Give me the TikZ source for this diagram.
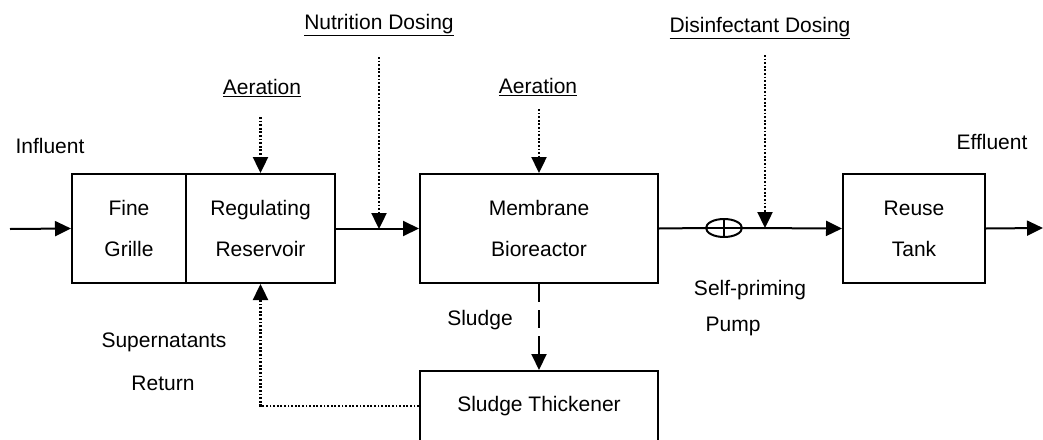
\documentclass[tikz,border=0pt]{standalone}
\usepackage{fontspec}
\setmainfont{Liberation Sans}
\usetikzlibrary{arrows.meta,shapes.geometric}
\begin{document}
\begin{tikzpicture}[x=1pt,y=-1pt,
  font=\fontsize{21}{41}\selectfont,
  unit/.style={draw,line width=2pt,rectangle,inner sep=0pt,align=center},
  txt/.style={inner sep=0pt,align=center},
  flow/.style={line width=2pt,-{Triangle[length=16pt,width=15pt]}},
  dose/.style={line width=2.4pt,dash pattern=on 1.8pt off 1.8pt,-{Triangle[length=16pt,width=15pt]}},
  sludgeline/.style={line width=2pt,dash pattern=on 18pt off 8pt,-{Triangle[length=16pt,width=15pt]}}
]
\useasboundingbox (0,0) rectangle (1043,439);
\clip (0,0) rectangle (1043,439);

% process units
\node[unit,minimum width=114pt,minimum height=109pt] (fine) at (129,228.5) {Fine\\Grille};
\node[unit,minimum width=149pt,minimum height=109pt] (res) at (260.5,228.5) {Regulating\\Reservoir};
\node[unit,minimum width=238pt,minimum height=109pt] (mbr) at (539,228.5) {Membrane\\Bioreactor};
\node[unit,minimum width=142pt,minimum height=109pt] (reuse) at (914,228.5) {Reuse\\Tank};
\node[unit,minimum width=238pt,minimum height=70pt] (thick) at (539,406) {\raisebox{4pt}{Sludge Thickener}};

% self-priming pump
\node[draw,ellipse,line width=2pt,minimum width=36pt,minimum height=18pt,inner sep=0pt] (pump) at (724,228) {};
\draw[line width=2pt] (pump.north) -- (pump.south);

% labels
\node[txt] (influent) at (50,146) {Influent};
\node[txt] (effluent) at (992,142) {Effluent};
\node[txt] (nutr) at (379,25) {\underline{Nutrition Dosing}};
\node[txt] (aer1) at (262,88) {\underline{Aeration}};
\node[txt] (aer2) at (538,87) {\underline{Aeration}};
\node[txt] (disinf) at (760,28) {\underline{Disinfectant Dosing}};
\node[txt] (selfp) at (750,290) {Self-priming};
\node[txt] (pumplbl) at (733,326) {Pump};
\node[txt] (sludge) at (480,320) {Sludge};
\node[txt] (super) at (164,342) {Supernatants};
\node[txt] (ret) at (163,383) {Return};

% free ends and junctions
\coordinate (inlet) at (10,229);
\coordinate (outlet) at (1043,228);
\coordinate (nutrtop) at (379,57);
\coordinate (nutrjoin) at (379,229);
\coordinate (aer1top) at (260.5,117);
\coordinate (aer2top) at (539,109);
\coordinate (distop) at (765,55);
\coordinate (disjoin) at (765,228);
\coordinate (retcorner) at (260.5,406);

% main flow
\draw[flow] (inlet) -- (fine.west);
\draw[flow] (res.east) -- (mbr.west);
\draw[line width=2pt] (mbr.east) -- (pump.west);
\draw[line width=2pt] (pump.west) -- (pump.east);
\draw[flow] (pump.east) -- (reuse.west);
\draw[flow] (reuse.east) -- (outlet);

% dosing and aeration
\draw[dose] (nutrtop) -- (nutrjoin);
\draw[dose] (aer1top) -- (res.north);
\draw[dose] (aer2top) -- (mbr.north);
\draw[dose] (distop) -- (disjoin);

% sludge handling
\draw[sludgeline] (mbr.south) -- (thick.north);
\draw[dose] (thick.west) -- (retcorner) -- (res.south);
\end{tikzpicture}
\end{document}
